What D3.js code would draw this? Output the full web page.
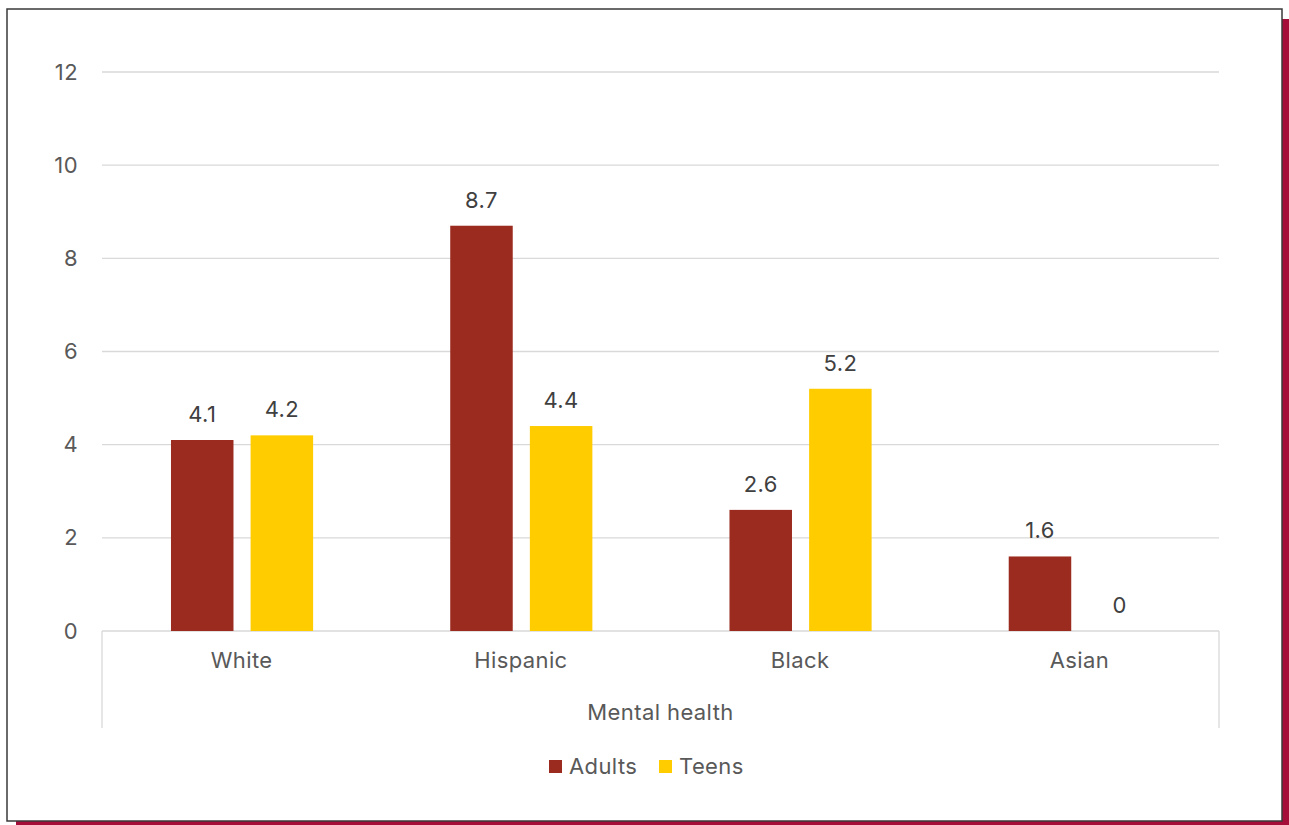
<!DOCTYPE html>
<html>
<head>
<meta charset="utf-8">
<title>Mental health</title>
<script src="https://cdn.jsdelivr.net/npm/d3@7/dist/d3.min.js"></script>
<style>
  body { margin: 0; background: #fff; }
  text { font-family: Inter, "Noto Sans", "Open Sans", sans-serif; letter-spacing: 0.4px; }
</style>
</head>
<body>
<div id="chart"></div>
<script>
var categories = ['White', 'Hispanic', 'Black', 'Asian'];
var seriesNames = ['Adults', 'Teens'];
var adults = [4.1, 8.7, 2.6, 1.6];
var teens = [4.2, 4.4, 5.2, 0];
var yTicks = [0, 2, 4, 6, 8, 10, 12];
var colors = ['#9c2b1f', '#ffcc00'];

var width = 1289, height = 825;
var margin = {left: 102, right: 1219, top: 72, bottom: 631};

var svg = d3.select('#chart').append('svg')
    .attr('width', width)
    .attr('height', height);

// frame with crimson shadow
svg.append('rect').attr('x', 16).attr('y', 19).attr('width', 1273).attr('height', 806).attr('fill', '#a50e38');
svg.append('rect').attr('x', 7).attr('y', 9).attr('width', 1275).attr('height', 812)
    .attr('fill', '#fff').attr('stroke', '#3a3a3a').attr('stroke-width', 1.5);

var x = d3.scaleBand().domain(categories).range([margin.left, margin.right]);
var y = d3.scaleLinear().domain([0, 12]).range([margin.bottom, margin.top]);
var inner = d3.scaleBand().domain(seriesNames)
    .range([x.bandwidth() * 0.247, x.bandwidth() * 0.756]).paddingInner(0.215);

// gridlines
svg.append('g').selectAll('line').data(yTicks).enter().append('line')
    .attr('x1', margin.left).attr('x2', margin.right)
    .attr('y1', function(d) { return y(d); }).attr('y2', function(d) { return y(d); })
    .attr('stroke', '#d9d9d9').attr('stroke-width', 1.3);

// y axis labels
var yAxis = d3.axisLeft(y).tickValues(yTicks).tickSize(0).tickPadding(24);
svg.append('g').attr('transform', 'translate(' + margin.left + ',0)').call(yAxis)
    .call(function(g) {
        g.select('.domain').remove();
        g.selectAll('text').attr('font-size', 22).attr('font-family', null).attr('fill', '#595959');
    });

// category axis
var xAxis = d3.axisBottom(x).tickSize(0).tickPadding(21);
svg.append('g').attr('transform', 'translate(0,' + margin.bottom + ')').call(xAxis)
    .call(function(g) {
        g.select('.domain').remove();
        g.selectAll('text').attr('font-size', 22).attr('font-family', null).attr('fill', '#595959');
    });

// side lines of category axis
svg.append('g').selectAll('line').data([margin.left, margin.right]).enter().append('line')
    .attr('x1', function(d) { return d; }).attr('x2', function(d) { return d; })
    .attr('y1', margin.bottom).attr('y2', 728)
    .attr('stroke', '#d9d9d9').attr('stroke-width', 1.3);

svg.append('text').attr('x', (margin.left + margin.right) / 2).attr('y', 720)
    .attr('text-anchor', 'middle').attr('font-size', 22).attr('fill', '#595959')
    .text('Mental health');

// bars
var series = [adults, teens];
series.forEach(function(vals, si) {
    var g = svg.append('g');
    g.selectAll('rect').data(vals).enter().append('rect')
        .attr('x', function(d, i) { return x(categories[i]) + inner(seriesNames[si]); })
        .attr('y', function(d) { return y(d); })
        .attr('width', inner.bandwidth())
        .attr('height', function(d) { return y(0) - y(d); })
        .attr('fill', colors[si]);
    g.selectAll('text').data(vals).enter().append('text')
        .attr('x', function(d, i) { return x(categories[i]) + inner(seriesNames[si]) + inner.bandwidth() / 2; })
        .attr('y', function(d) { return y(d) - 18; })
        .attr('text-anchor', 'middle').attr('font-size', 22).attr('fill', '#404040')
        .text(function(d) { return d; });
});

// legend
var legend = svg.append('g').selectAll('g').data(seriesNames).enter().append('g')
    .attr('transform', function(d, i) { return 'translate(' + (549 + i * 110) + ',760)'; });
legend.append('rect').attr('width', 13).attr('height', 13)
    .attr('fill', function(d, i) { return colors[i]; });
legend.append('text').attr('x', 20).attr('y', 13.5)
    .attr('font-size', 22).attr('fill', '#595959')
    .text(function(d) { return d; });
</script>
</body>
</html>
